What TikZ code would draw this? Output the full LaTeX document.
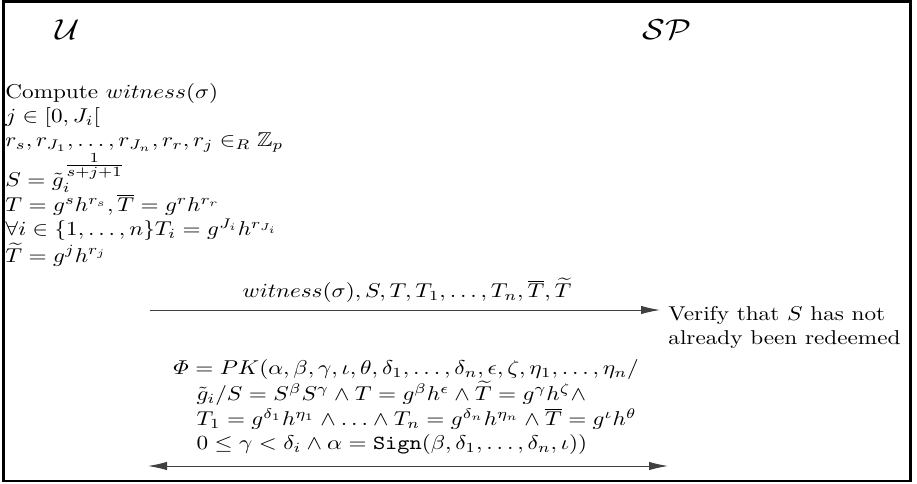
\documentclass[tikz,border=0pt]{standalone}
\usepackage{amsmath,amssymb,graphicx}
\usetikzlibrary{arrows.meta}
\tikzset{mytip/.tip={Latex[length=9.5pt,width=4.2pt]}}
\newcommand{\hs}[1]{\scalebox{1.16}[1]{#1}}
\begin{document}
\begin{tikzpicture}[x=0.5pt,y=-0.5pt,
  party/.style={font=\Large, inner sep=0pt},
  txt/.style={align=left, inner sep=0pt},
  msg/.style={line width=0.45pt, draw=black!75}]
\useasboundingbox (0,0) rectangle (917,483);
\draw[line width=1.4pt] (3.5,1.5) rectangle (910.5,481);
\node[party] (U) at (68,30) {\hs{$\mathcal{U}$}};
\node[party] (SP) at (667,30) {\hs{$\mathcal{SP}$}};
\node[txt, anchor=base west] (left) at (5,98) {\hs{\begin{tabular}[t]{@{}l@{}}Compute $witness(\sigma)$\\
$j \in [0, J_i[$\\
$r_s, r_{J_1}, \dots, r_{J_n}, r_r, r_j \in_R \mathbb{Z}_p$\\
$S = \tilde{g}_i^{\tfrac{1}{s+j+1}}$\\
$T = g^s h^{r_s}, \overline{T} = g^r h^{r_r}$\\
$\forall i \in \{1, \dots, n\} T_i = g^{J_i} h^{r_{J_i}}$\\
$\widetilde{T} = g^j h^{r_j}$\end{tabular}}};
\coordinate (a1s) at (150,310);
\coordinate (a1e) at (660,310);
\draw[msg, -mytip] (a1s) -- node[above=3.5pt, inner sep=0pt, xshift=1pt] (lab) {\hs{$witness(\sigma), S, T, T_1, \dots, T_n, \overline{T}, \widetilde{T}$}} (a1e);
\node[txt, anchor=base west] (verify) at (668,320) {\hs{\begin{tabular}[t]{@{}l@{}}Verify that $S$ has not\\ already been redeemed\end{tabular}}};
\node[txt, anchor=base west] (phi) at (173,374) {\hs{\begin{tabular}[t]{@{}l@{}}$\varPhi = PK(\alpha,\beta,\gamma,\iota,\theta,\delta_1,\dots,\delta_n,\epsilon,\zeta,\eta_1,\dots,\eta_n/$\\
\hspace{1em}$\tilde{g}_i/S = S^{\beta} S^{\gamma} \wedge T = g^{\beta} h^{\epsilon} \wedge \widetilde{T} = g^{\gamma} h^{\zeta} \wedge$\\
\hspace{1em}$T_1 = g^{\delta_1} h^{\eta_1} \wedge \ldots \wedge T_n = g^{\delta_n} h^{\eta_n} \wedge \overline{T} = g^{\iota} h^{\theta}$\\
\hspace{1em}$0 \le \gamma < \delta_i \wedge \alpha = \mathtt{Sign}(\beta,\delta_1,\dots,\delta_n,\iota))$\end{tabular}}};
\coordinate (a2s) at (148,466);
\coordinate (a2e) at (668,466);
\draw[msg, mytip-mytip] (a2s) -- (a2e);
\end{tikzpicture}
\end{document}
